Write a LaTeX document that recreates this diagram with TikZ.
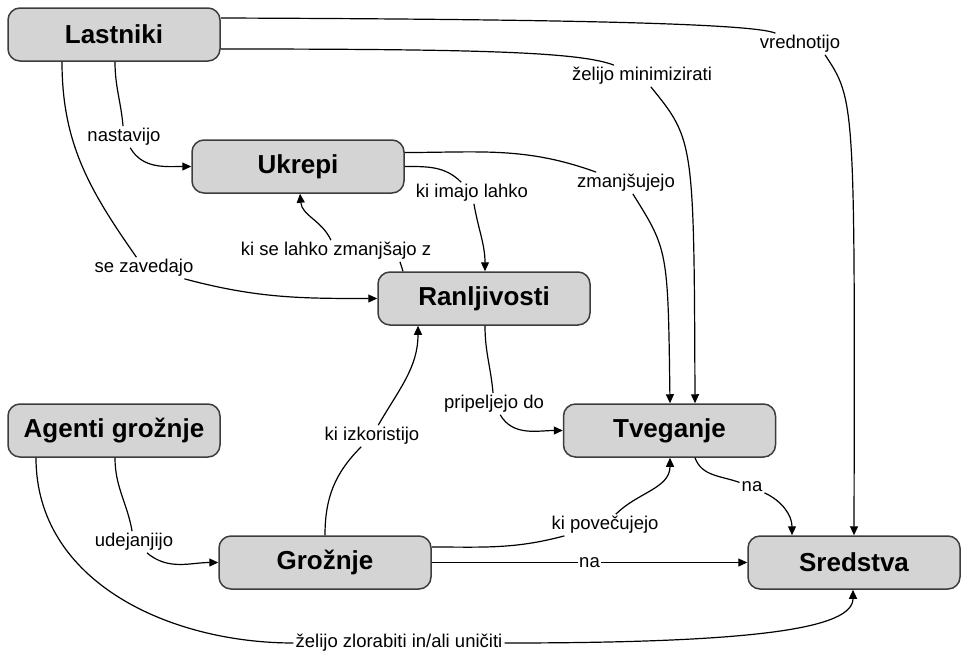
\documentclass[tikz,border=0pt]{standalone}
\usepackage{fontspec}
\setmainfont{Liberation Sans}
\usetikzlibrary{arrows.meta}
\definecolor{boxfill}{HTML}{D4D4D4}
\definecolor{boxline}{HTML}{3C3C3C}
\begin{document}
\begin{tikzpicture}[x=1pt,y=-1pt,
  concept/.style={draw=boxline,line width=1.5pt,fill=boxfill,rounded corners=12pt,
    minimum width=212pt,minimum height=53pt,inner sep=0pt,
    font=\fontsize{26}{30}\selectfont\bfseries},
  lbl/.style={inner sep=2pt,font=\fontsize{18.5}{22}\selectfont},
  link/.style={line width=1.2pt},
  arr/.style={link,-{Triangle[length=9pt,width=8pt]}}]
\useasboundingbox (0,0) rectangle (961,651);

% concepts
\node[concept] (L) at (114,34.5) {Lastniki};
\node[concept] (U) at (298,166.5) {Ukrepi};
\node[concept] (R) at (484,298.5) {Ranljivosti};
\node[concept] (A) at (114,430.5) {Agenti grožnje};
\node[concept] (G) at (325,562.5) {Grožnje};
\node[concept] (T) at (669.5,430.5) {Tveganje};
\node[concept] (S) at (854,562.5) {Sredstva};

% linking phrases
\node[lbl] (v)   at (800,44)  {vrednotijo};
\node[lbl] (zm)  at (642,76)  {želijo minimizirati};
\node[lbl] (n)   at (124,137) {nastavijo};
\node[lbl] (sz)  at (144,268) {se zavedajo};
\node[lbl] (kil) at (472,193) {ki imajo lahko};
\node[lbl] (zj)  at (626,183) {zmanjšujejo};
\node[lbl] (ks)  at (336,251) {ki se lahko zmanjšajo z};
\node[lbl] (pd)  at (494,404) {pripeljejo do};
\node[lbl] (ki)  at (372,436) {ki izkoristijo};
\node[lbl] (ud)  at (134,542) {udejanjijo};
\node[lbl] (zz)  at (399,643) {želijo zlorabiti in/ali uničiti};
\node[lbl] (kp)  at (605,525) {ki povečujejo};
\node[lbl] (na2) at (752,487) {na};

% links
\draw[link] ([yshift=16.5pt]L.east) .. controls (500,19) and (750,22) .. (v);
\draw[arr] ([xshift=25pt]v.south) .. controls (855,100) .. (S.north);

\draw[link] ([yshift=-14.5pt]L.east) .. controls (480,49) and (580,52) .. (zm);
\draw[arr] (zm) .. controls (694,140) .. ([xshift=25.5pt]T.north);

\draw[link] ([xshift=1pt]L.south) to[out=-90,in=95] (n);
\draw[arr] (n) to[out=-60,in=180] (U.west);

\draw[link] ([xshift=-52pt]L.south) to[out=-90,in=125] (sz);
\draw[arr] (sz) to[out=-15,in=180] (R.west);

\draw[link] (U.east) to[out=0,in=135] (kil);
\draw[arr] (kil) to[out=-80,in=90] ([xshift=1pt]R.north);

\draw[link] ([yshift=14pt]U.east) to[out=0,in=160] (zj);
\draw[arr] (zj) .. controls (668,250) .. ([xshift=0.5pt]T.north);

\draw[link] ([xshift=-81pt]R.north) to[out=105,in=-75] ([xshift=64pt]ks.south);
\draw[arr] (ks) to[out=115,in=-85] ([xshift=2pt]U.south);

\draw[link] ([xshift=1pt]R.south) to[out=-90,in=95] (pd);
\draw[arr] (pd) to[out=-60,in=180] (T.west);

\draw[link] (G.north) to[out=90,in=-135] (ki);
\draw[arr] (ki) to[out=60,in=-90] ([xshift=-66pt]R.south);

\draw[link] ([xshift=1pt]A.south) to[out=-90,in=100] (ud);
\draw[arr] (ud) to[out=-40,in=180] (G.west);

\draw[link] ([xshift=-78pt]A.south) to[out=-90,in=180] (zz);
\draw[arr] (zz) .. controls (760,643) and (853,628) .. ([xshift=-1pt]S.south);

\draw[link] ([yshift=15.5pt]G.east) to[out=0,in=195] (kp);
\draw[arr] (kp) to[out=45,in=-90] ([xshift=0.5pt]T.south);

\draw[arr] (G.east) -- node[lbl,fill=white,inner sep=1pt] (na1) {na} (S.west);

\draw[link] ([xshift=25.5pt]T.south) to[out=-70,in=160] (na2);
\draw[arr] (na2) to[out=-25,in=90] ([xshift=-62pt]S.north);
\end{tikzpicture}
\end{document}
